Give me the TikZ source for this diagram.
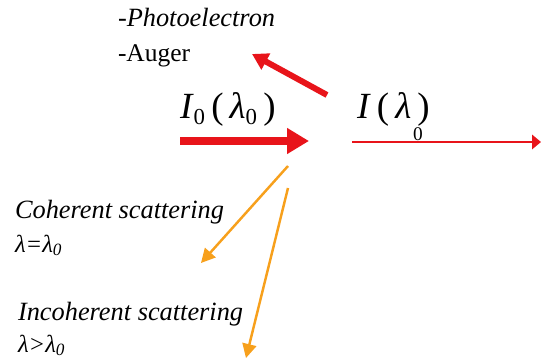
\documentclass[tikz,border=0pt]{standalone}
\usepackage{fontspec}
\setmainfont{Liberation Serif}
\definecolor{beamred}{RGB}{232,20,26}
\definecolor{scatorange}{RGB}{247,160,28}
\usetikzlibrary{arrows.meta,positioning}

\begin{document}
\begin{tikzpicture}[
  x=0.02cm, y=-0.02cm,
  every node/.style={inner sep=0pt,outer sep=0pt},
  lbl/.style={anchor=base west,font=\fontsize{15}{17}\selectfont},
  scatlbl/.style={anchor=base west,font=\fontsize{15}{17}\selectfont\itshape},
  beamlbl/.style={anchor=base west,font=\fontsize{21}{24}\selectfont},
  beam/.style={beamred,line width=4.5pt,-{Triangle[length=12.5pt,width=14pt]}},
  outbeam/.style={beamred,line width=1.4pt,-{Triangle[length=5pt,width=8pt]}},
  emit/.style={beamred,line width=3.4pt,-{Triangle[length=9pt,width=10pt]}},
  scat/.style={scatorange,line width=1.4pt,-{Triangle[length=8pt,width=8pt]}},
]
  \useasboundingbox (0,0) rectangle (541,358);

  % Emitted electrons
  \node[lbl] (photo) at (118,27) {-\textit{Photoelectron}};
  \node[lbl,font=\fontsize{14.5}{17}\selectfont] (auger) at (118,62) {-Auger};

  % Beam labels
  \node[beamlbl] (inlbl) at (180,119)
    {\textit{I}{\fontsize{13}{13}\selectfont\raisebox{-3pt}{0}}\,(\,\textit{λ}{\fontsize{13}{13}\selectfont\raisebox{-3pt}{0}}\,)};
  \node[beamlbl] (outlbl) at (357,119) {\textit{I}\,(\,\textit{λ}\,)};
  \node[anchor=base,font=\fontsize{11}{13}\selectfont] (outsub) at (418,140) {0};

  % Scattering labels
  \node[scatlbl] (coh) at (15,218) {Coherent scattering};
  \node[scatlbl,font=\fontsize{14}{17}\selectfont\itshape] (cohl) at (15,252) {λ=λ\textsubscript{0}};
  \node[scatlbl] (incoh) at (18,320) {Incoherent scattering};
  \node[scatlbl,font=\fontsize{14}{17}\selectfont\itshape] (incohl) at (18,352) {λ>λ\textsubscript{0}};

  % Arrow end points
  \coordinate (in0) at (180,141);
  \coordinate (in1) at (309,141);
  \coordinate (out0) at (352,142);
  \coordinate (out1) at (541,142);
  \coordinate (pe0) at (327,95);
  \coordinate (pe1) at (252,54);
  \coordinate (c0) at (288,166);
  \coordinate (c1) at (201,263);
  \coordinate (i0) at (288,188);
  \coordinate (i1) at (246,358);

  % Arrows
  \draw[beam] (in0) -- (in1);
  \draw[outbeam] (out0) -- (out1);
  \draw[emit] (pe0) -- (pe1);
  \draw[scat] (c0) -- (c1);
  \draw[scat] (i0) -- (i1);
\end{tikzpicture}
\end{document}
